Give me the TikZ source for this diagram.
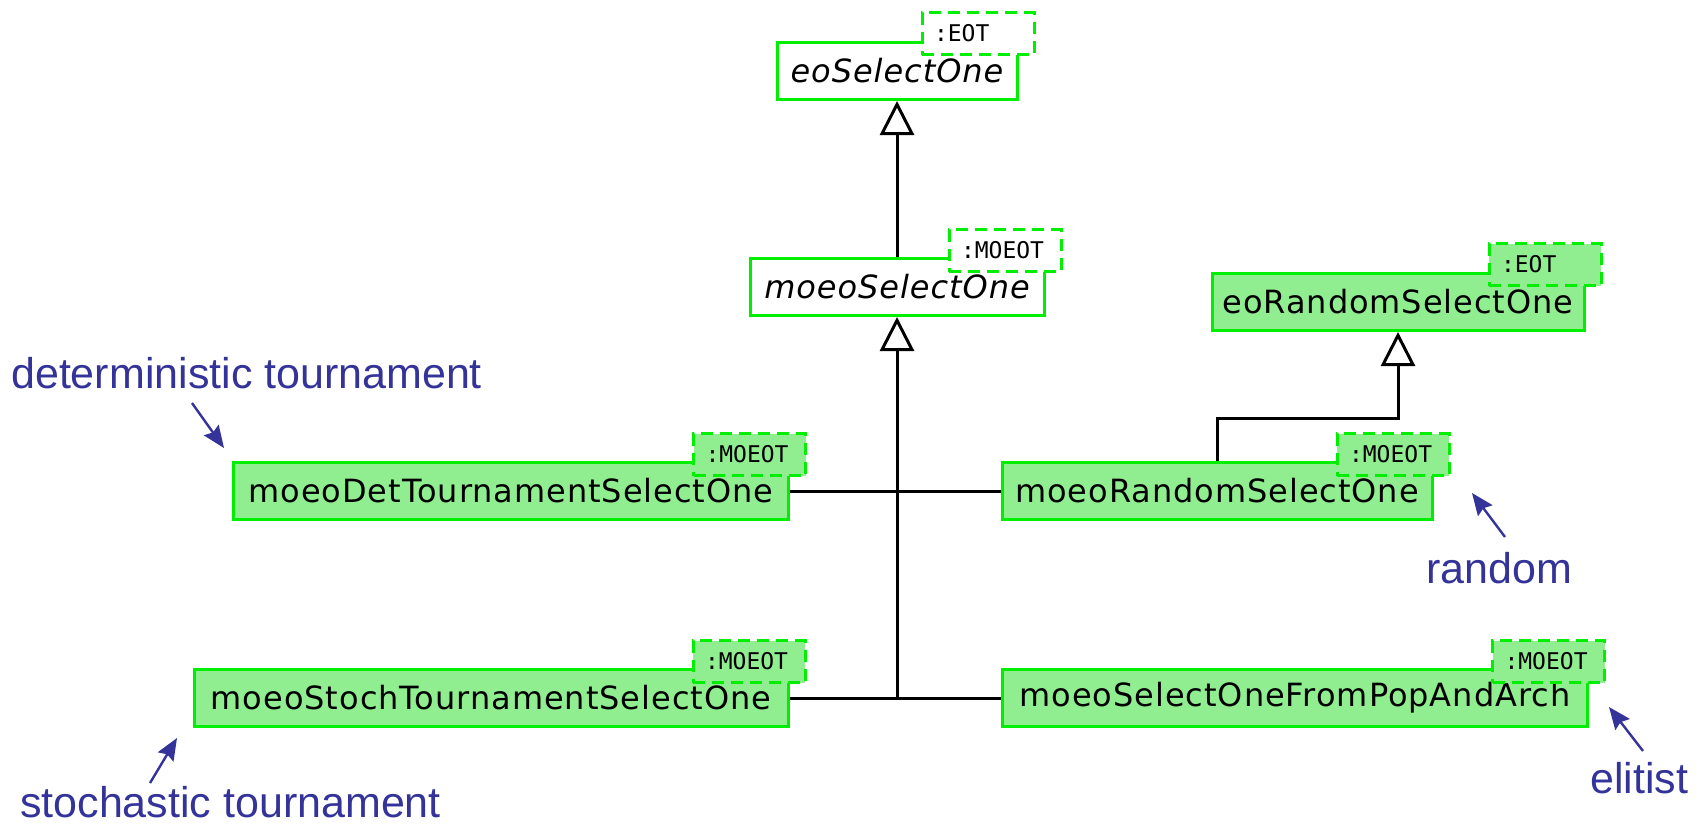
\documentclass[tikz,border=0pt]{standalone}
\usepackage{fontspec}
\usepackage{xcolor}
\usepackage{tikz}
\usetikzlibrary{arrows.meta}
\newfontfamily\classfont[LetterSpace=3,ItalicFont={DejaVu Sans Oblique}]{DejaVu Sans}
\newfontfamily\tparamfont{DejaVu Sans Mono}
\newfontfamily\notefont{Liberation Sans}
\definecolor{umlgreen}{RGB}{0, 238, 0}
\definecolor{classfill}{RGB}{144, 238, 144}
\definecolor{noteblue}{RGB}{51, 51, 153}

\begin{document}
\begin{tikzpicture}[x = 1pt, y = -1pt,
		classbox/.style = {draw = umlgreen, line width = 3pt, fill = classfill, minimum height = 57pt, inner sep = 0pt, font = \classfont\fontsize{32}{38}\selectfont},
		abstractbox/.style = {classbox, fill = white, font = \classfont\itshape\fontsize{32}{38}\selectfont},
		tparam/.style = {draw = umlgreen, line width = 3pt, dash pattern = on 12pt off 7pt, fill = classfill, anchor = north east, text width = 88pt, inner xsep = 12pt, inner ysep = 0pt, minimum height = 42pt, align = left, font = \tparamfont\fontsize{23}{27}\selectfont},
		inherit/.style = {line width = 3pt, -{Triangle[open, length = 34pt, width = 34pt]}},
		link/.style = {line width = 3pt},
		note/.style = {text = noteblue, anchor = base west, inner sep = 0pt, font = \notefont\fontsize{43}{50}\selectfont},
		pointer/.style = {draw = noteblue, line width = 2.4pt, -{Stealth[length = 22pt, width = 18pt, inset = 3pt]}}]
		\useasboundingbox (0,0) rectangle (1704,827);
		% classes
		\node (eosel) at (897,71) [abstractbox, minimum width = 240pt] {eoSelectOne};
		\node (moeosel) at (897,287) [abstractbox, minimum width = 294pt] {moeoSelectOne};
		\node (eorand) at (1398,302) [classbox, minimum width = 372pt] {eoRandomSelectOne};
		\node (det) at (511,491) [classbox, minimum width = 555pt] {moeoDetTournamentSelectOne};
		\node (rand) at (1217,491) [classbox, minimum width = 430pt] {moeoRandomSelectOne};
		\node (stoch) at (491,698) [classbox, minimum width = 594pt] {moeoStochTournamentSelectOne};
		\node (pop) at (1295,698) [classbox, minimum width = 585pt] {moeoSelectOneFromPopAndArch};
		% template parameters
		\node (eoselT) at ([shift = {(17,-30)}]eosel.north east) [tparam, fill = white] {:EOT};
		\node (moeoselT) at ([shift = {(17,-29)}]moeosel.north east) [tparam, fill = white] {:MOEOT};
		\node (eorandT) at ([shift = {(17,-30)}]eorand.north east) [tparam] {:EOT};
		\node (detT) at ([shift = {(17,-29)}]det.north east) [tparam] {:MOEOT};
		\node (randT) at ([shift = {(17,-29)}]rand.north east) [tparam] {:MOEOT};
		\node (stochT) at ([shift = {(17,-29)}]stoch.north east) [tparam] {:MOEOT};
		\node (popT) at ([shift = {(17,-29)}]pop.north east) [tparam] {:MOEOT};
		% inheritance
		\coordinate (hub) at (moeosel.south |- stoch.east);
		\draw[link] (det) -- (rand);
		\draw[link] (stoch) -- (pop);
		\draw[inherit] (hub) -- (moeosel);
		\draw[inherit] (moeosel) -- (eosel);
		\draw[inherit] (rand.north) -- ++(0,-43) -| (eorand.south);
		% notes
		\node (detnote) at (11,388) [note] {deterministic tournament};
		\node (randnote) at (1426,583) [note] {random};
		\node (stochnote) at (20,817) [note] {stochastic tournament};
		\node (elitnote) at (1590,793) [note] {elitist};
		\coordinate (detfrom) at (192,403);
		\coordinate (detto) at (224,448);
		\coordinate (randfrom) at (1505,537);
		\coordinate (randto) at (1472,493);
		\coordinate (stochfrom) at (150,783);
		\coordinate (stochto) at (177,738);
		\coordinate (elitfrom) at (1643,751);
		\coordinate (elitto) at (1609,707);
		\draw[pointer] (detfrom) -- (detto);
		\draw[pointer] (randfrom) -- (randto);
		\draw[pointer] (stochfrom) -- (stochto);
		\draw[pointer] (elitfrom) -- (elitto);
\end{tikzpicture}
\end{document}
